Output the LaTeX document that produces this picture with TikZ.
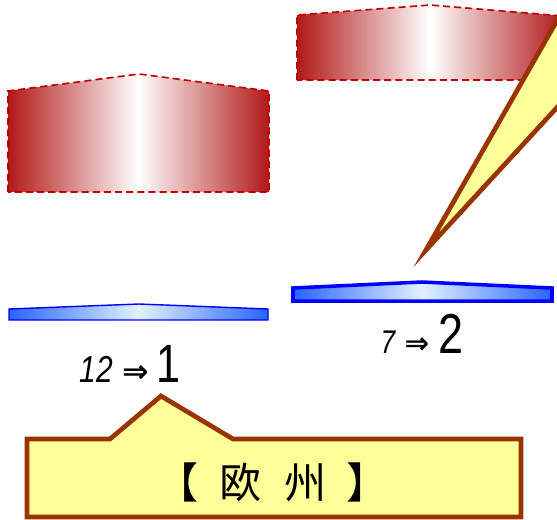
\documentclass[tikz,border=0pt]{standalone}
\usepackage{fontspec}
\setmainfont{Liberation Sans}
\newfontfamily\numfont[FakeStretch=0.8]{Liberation Sans}
\newfontfamily\arrowfont{DejaVu Sans}
\newfontfamily\cjkfont{Noto Sans CJK JP}

\definecolor{wallred}{RGB}{192,0,0}
\definecolor{edgered}{RGB}{178,24,24}
\definecolor{lensblue}{RGB}{0,0,255}
\definecolor{fillblue}{RGB}{40,100,255}
\definecolor{paleblue}{RGB}{225,242,255}
\definecolor{noteyellow}{RGB}{255,255,153}
\definecolor{notebrown}{RGB}{153,51,0}

\tikzset{
  prism/.style={draw=wallred, line width=1.4pt, dash pattern=on 6pt off 3.5pt,
    left color=edgered, right color=edgered, middle color=white},
  lens/.style={draw=lensblue, left color=fillblue, right color=fillblue, middle color=paleblue},
  note/.style={draw=notebrown, line width=4pt, fill=noteyellow, miter limit=20},
  ratio/.style={anchor=base, inner sep=0pt},
}

\begin{document}
\begin{tikzpicture}[x=0.03cm, y=-0.03cm]
    \useasboundingbox (0,0) rectangle (557,519);
    \clip (0,0) rectangle (557,519);

    % Red prisms
    \draw[prism] (8,192) -- (8,91) -- (139,74) -- (269,91) -- (269,192) -- cycle;
    \draw[prism] (297,80) -- (297,15) -- (430,5) -- (563,16) -- (563,80) -- cycle;

    % Blue lenses
    \draw[lens, line width=1.2pt] (9,320) -- (9,309) -- (139,304) -- (268,309) -- (268,320) -- cycle;
    \draw[lens, line width=3pt] (293,301) -- (293,288) -- (422,282) -- (552,288) -- (552,301) -- cycle;

    % Ratios
    \node[ratio] (ratioA) at (130,382)
      {{\numfont\itshape\fontsize{32}{32}\selectfont 12}\hspace{8pt}{\arrowfont\bfseries\fontsize{27}{27}\selectfont ⇒}\hspace{6pt}{\numfont\fontsize{46}{46}\selectfont 1}};
    \node[ratio] (ratioB) at (422,353)
      {{\numfont\itshape\fontsize{28}{28}\selectfont 7}\hspace{8pt}{\arrowfont\bfseries\fontsize{25}{25}\selectfont ⇒}\hspace{8pt}{\numfont\fontsize{48}{48}\selectfont 2}};

    % Callouts
    \draw[note] (426,250) -- (583,-25) -- (700,-25) -- (700,70) -- (597,64) -- cycle;
    \draw[note] (27,439) -- (110,439) -- (161,396) -- (233,439) -- (521,439)
      -- (521,517) -- (27,517) -- cycle;
    \node[inner sep=0pt] (europe) at (273,482)
      {\cjkfont\fontsize{36}{36}\selectfont 【\hspace{0.48em}欧\hspace{0.55em}州\hspace{0.48em}】};
\end{tikzpicture}
\end{document}
